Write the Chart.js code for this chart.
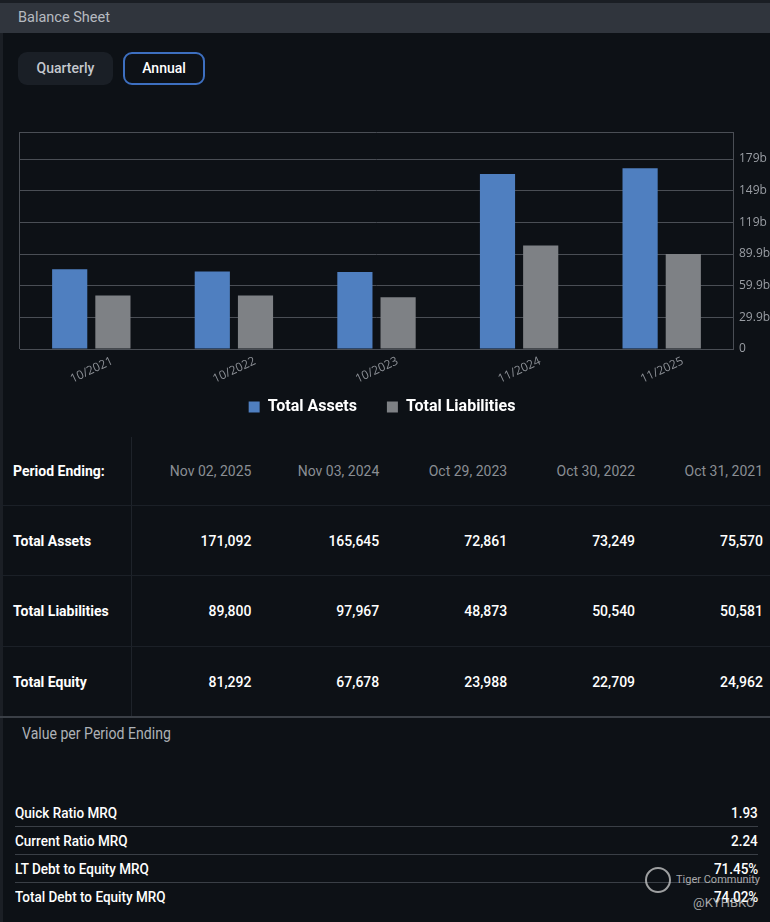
<!DOCTYPE html>
<html>
<head>
<meta charset="utf-8">
<script src="https://cdn.jsdelivr.net/npm/chart.js@4.4.1/dist/chart.umd.min.js"></script>
<style>
  html, body { margin: 0; padding: 0; }
  body { width: 770px; height: 922px; overflow: hidden; background: #0d1116; position: relative; font-family: Roboto, "Noto Sans", sans-serif; }
  .topline { position: absolute; left: 0; top: 0; width: 770px; height: 3px; background: #1a1e24; }
  .header { position: absolute; left: 0; top: 3px; width: 770px; height: 30px; background: #30353d; color: #b6bac0; font-size: 14.5px; line-height: 30px; }
  .header span { margin-left: 18px; }
  .leftedge { position: absolute; left: 0; top: 33px; width: 3px; height: 889px; background: #1b1f25; }
  .btn { position: absolute; top: 52px; height: 33px; box-sizing: border-box; border-radius: 9px; font-size: 14px; font-weight: 500; line-height: 33px; text-align: center; }
  .btn.q { left: 18px; width: 95px; background: #1a1f26; color: #c4c8ce; }
  .btn.a { left: 123px; width: 82px; border: 2px solid #3d6fc0; color: #ffffff; line-height: 29px; }
  #chartBox { position: absolute; left: -6px; top: 110px; width: 776px; height: 329px; }
  table { position: absolute; left: 0; top: 437px; border-collapse: collapse; table-layout: fixed; width: 771px; font-size: 14px; }
  td { height: 69px; padding: 0 8px 0 0; text-align: right; color: #ffffff; font-weight: 500; border-bottom: 1px solid #1b2027; }
  td:first-child { text-align: left; padding: 0 0 0 13px; width: 118px; border-right: 1px solid #1e232a; font-weight: 700; }
  tr.head td { height: 68px; color: #8a8e94; font-weight: 400; }
  tr.head td:first-child { color: #ffffff; font-weight: 700; }
  tr:nth-child(3) td { height: 70px; }
  tr:last-child td { height: 69px; border-bottom: 2px solid #3a3f46; }
  .vpp { position: absolute; left: 22px; top: 724px; color: #aeb2b7; font-size: 16px; transform: scaleX(0.88); transform-origin: left; }
  .ratios { position: absolute; left: 15px; top: 799px; width: 743px; }
  .ratio { height: 27px; border-bottom: 1px solid #3a3f46; position: relative; color: #ffffff; font-size: 15px; font-weight: 500; }
  .ratio:last-child { border-bottom: none; }
  .ratio .l { position: absolute; left: 0; top: 5px; transform: scaleX(0.9); transform-origin: left; }
  .ratio .r { position: absolute; right: 0; top: 5px; transform: scaleX(0.9); transform-origin: right; }
  .wm { position: absolute; color: rgba(220,220,220,0.75); font-size: 11px; }
  .wm.icon { left: 645px; top: 867px; width: 22px; height: 22px; border: 2px solid rgba(220,220,220,0.7); border-radius: 50%; }
</style>
</head>
<body>
<div class="topline"></div>
<div class="header"><span>Balance Sheet</span></div>
<div class="leftedge"></div>
<div class="btn q">Quarterly</div>
<div class="btn a">Annual</div>
<table id="tbl"></table>
<div id="chartBox"><canvas id="chart"></canvas></div>
<div class="vpp">Value per Period Ending</div>
<div class="ratios" id="ratios"></div>
<div class="wm icon"></div>
<div class="wm" style="left:676px; top:873px;">Tiger Community</div>
<div class="wm" style="left:693px; top:895px; font-size:13px;">@KYHBKO</div>
<script>
// chart data (billions)
const categories = ['10/2021', '10/2022', '10/2023', '11/2024', '11/2025'];
const totalAssets = [75.570, 73.249, 72.861, 165.645, 171.092];
const totalLiabilities = [50.581, 50.540, 48.873, 97.967, 89.800];
const yTickValues = [0, 29.95, 59.9, 89.85, 119.8, 149.75, 179.7];
const yTickLabels = ['0', '29.9b', '59.9b', '89.9b', '119b', '149b', '179b'];

// table data (millions)
const periods = ['Nov 02, 2025', 'Nov 03, 2024', 'Oct 29, 2023', 'Oct 30, 2022', 'Oct 31, 2021'];
const rowAssets = ['171,092', '165,645', '72,861', '73,249', '75,570'];
const rowLiabilities = ['89,800', '97,967', '48,873', '50,540', '50,581'];
const rowEquity = ['81,292', '67,678', '23,988', '22,709', '24,962'];

const ratioNames = ['Quick Ratio MRQ', 'Current Ratio MRQ', 'LT Debt to Equity MRQ', 'Total Debt to Equity MRQ'];
const ratioValues = ['1.93', '2.24', '71.45%', '74.02%'];

// table
var tbl = document.getElementById('tbl');
function addRow(cls, label, cells){
    var tr = document.createElement('tr');
    if(cls) tr.className = cls;
    var html = '<td>' + label + '</td>';
    cells.forEach(c => { html += '<td>' + c + '</td>'; });
    tr.innerHTML = html;
    tbl.appendChild(tr);
}
addRow('head', 'Period Ending:', periods);
addRow('', 'Total Assets', rowAssets);
addRow('', 'Total Liabilities', rowLiabilities);
addRow('', 'Total Equity', rowEquity);

var rb = document.getElementById('ratios');
ratioNames.forEach((n, i) => {
    var d = document.createElement('div');
    d.className = 'ratio';
    d.innerHTML = '<span class="l">' + n + '</span><span class="r">' + ratioValues[i] + '</span>';
    rb.appendChild(d);
});

// pulls the legend up closer to the rotated x labels
const legendNudge = {
    id: 'legendNudge',
    afterLayout(chart){
        chart.legend.top -= 14;
        chart.legend.bottom -= 14;
    }
};

// chart
const yMax = Math.max(...totalAssets) * 1.2;
var ctx = document.getElementById('chart').getContext('2d');
var chart = new Chart(ctx, {
    type: 'bar',
    data: {
        labels: categories,
        datasets: [{
            label: 'Total Assets',
            data: totalAssets,
            backgroundColor: '#4f7fc0',
            categoryPercentage: 0.606,
            barPercentage: 0.814
        }, {
            label: 'Total Liabilities',
            data: totalLiabilities,
            backgroundColor: '#7e8185',
            categoryPercentage: 0.606,
            barPercentage: 0.814
        }]
    },
    plugins: [legendNudge],
    options: {
        responsive: true,
        maintainAspectRatio: false,
        animation: false,
        layout: { padding: { left: 0, right: 0, top: 22, bottom: 0 } },
        plugins: {
            tooltip: { enabled: false },
            legend: {
                position: 'bottom',
                labels: {
                    color: '#ffffff',
                    boxWidth: 11,
                    boxHeight: 11,
                    padding: 30,
                    font: { family: 'Roboto', size: 16, weight: 'bold' }
                }
            }
        },
        scales: {
            x: {
                afterFit: (scale) => { scale.height = 34; },
                grid: {
                    drawTicks: false,
                    color: (c) => (c.index === 0 ? '#4a4e55' : 'transparent')
                },
                border: { color: '#4a4e55' },
                ticks: {
                    color: '#8c9096',
                    minRotation: 25,
                    maxRotation: 25,
                    labelOffset: 21,
                    padding: 5,
                    font: { family: 'Open Sans', size: 12 }
                }
            },
            y: {
                position: 'right',
                min: 0,
                max: yMax,
                afterFit: (scale) => { scale.width = 37; },
                afterBuildTicks: (scale) => {
                    scale.ticks = yTickValues.concat([yMax]).map(v => ({ value: v }));
                },
                grid: { drawTicks: false, color: '#4a4e55' },
                border: { color: '#4a4e55' },
                ticks: {
                    color: '#9a9ea4',
                    padding: 6,
                    font: { family: 'Open Sans', size: 12 },
                    callback: function(value, index){
                        return yTickLabels[index] !== undefined ? yTickLabels[index] : '';
                    }
                }
            },
            // empty spacer on the left so the legend centres like the original
            spacer: {
                position: 'left',
                min: 0,
                max: 1,
                afterFit: (scale) => { scale.width = 26; },
                grid: { display: false },
                border: { display: false },
                ticks: { display: false }
            }
        }
    }
});
</script>
</body>
</html>
